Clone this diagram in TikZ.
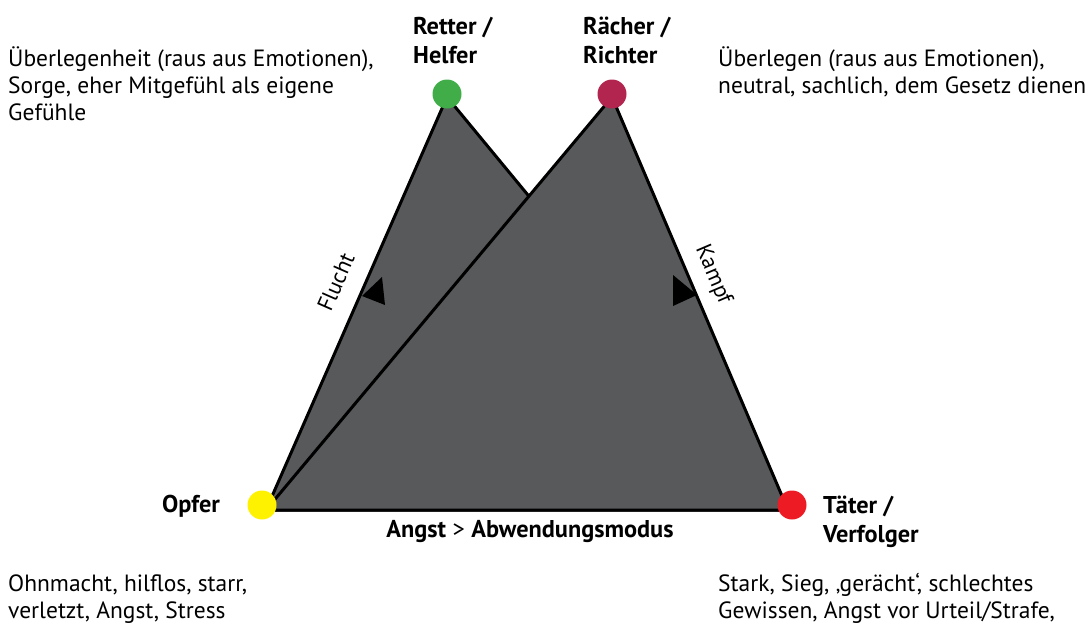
\documentclass[tikz,border=0pt]{standalone}
\usepackage{fontspec}
\setmainfont{PT Sans}
\definecolor{tri}{HTML}{58595B}
\definecolor{cgreen}{HTML}{41AD49}
\definecolor{cpurple}{HTML}{B1254F}
\definecolor{cyellow}{HTML}{FFF200}
\definecolor{cred}{HTML}{ED1C24}
\begin{document}
\begin{tikzpicture}[x=1pt,y=-1pt,
  txt/.style={font=\fontsize{23.5}{27}\selectfont, anchor=base west, inner sep=0, align=left},
  lbl/.style={font=\bfseries\fontsize{24.3}{28.5}\selectfont, anchor=base west, inner sep=0, align=left},
  dot/.style={circle, minimum size=29, inner sep=0},
  triedge/.style={line width=3, line join=round, fill=tri, draw=black},
  wedge/.style={fill=black}]
\useasboundingbox (0,0) rectangle (1089,624);
% triangle vertices
\coordinate (vO) at (266,510);
\coordinate (vT) at (788,510);
\coordinate (vH) at (447,97);
\coordinate (vR) at (612,97);
% triangles
\draw[triedge] (vO) -- (vH) -- (vT) -- cycle;
\draw[triedge] (vO) -- (vR) -- (vT) -- cycle;
% direction wedges
\fill[wedge] (362,296) -- (382,277) -- (385,305) -- cycle;
\fill[wedge] (673,275) -- (697,295) -- (673,306) -- cycle;
% dots
\node[dot, fill=cgreen] (retter) at (447,94) {};
\node[dot, fill=cpurple] (raecher) at (612,94) {};
\node[dot, fill=cyellow] (opfer) at (262,505) {};
\node[dot, fill=cred] (taeter) at (792,505) {};
% edge labels
\node[font=\fontsize{22.5}{27}\selectfont, rotate=66.3, inner sep=0] (flucht) at (336,282) {Flucht};
\node[font=\fontsize{22.5}{27}\selectfont, rotate=-66.9, inner sep=0] (kampf) at (713,275) {Kampf};
% role labels
\node[lbl] (lretter) at (413,63) {Retter /\\Helfer};
\node[lbl] (lraecher) at (583,63) {Rächer /\\Richter};
\node[lbl] (lopfer) at (162,512) {Opfer};
\node[lbl] (ltaeter) at (823,542) {Täter /\\Verfolger};
\node[font=\fontsize{24.3}{27}\selectfont, anchor=base, inner sep=0] (modus) at (530,537) {\textbf{Angst} > \textbf{Abwendungsmodus}};
% descriptions
\node[txt] (dretter) at (8,120) {Überlegenheit (raus aus Emotionen),\\Sorge, eher Mitgefühl als eigene\\Gefühle};
\node[txt] (draecher) at (718,93) {Überlegen (raus aus Emotionen),\\neutral, sachlich, dem Gesetz dienen};
\node[txt] (dopfer) at (8,618) {Ohnmacht, hilflos, starr,\\verletzt, Angst, Stress};
\node[txt] (dtaeter) at (718,618) {Stark, Sieg, ‚gerächt‘, schlechtes\\Gewissen, Angst vor Urteil/Strafe,};
\end{tikzpicture}
\end{document}
